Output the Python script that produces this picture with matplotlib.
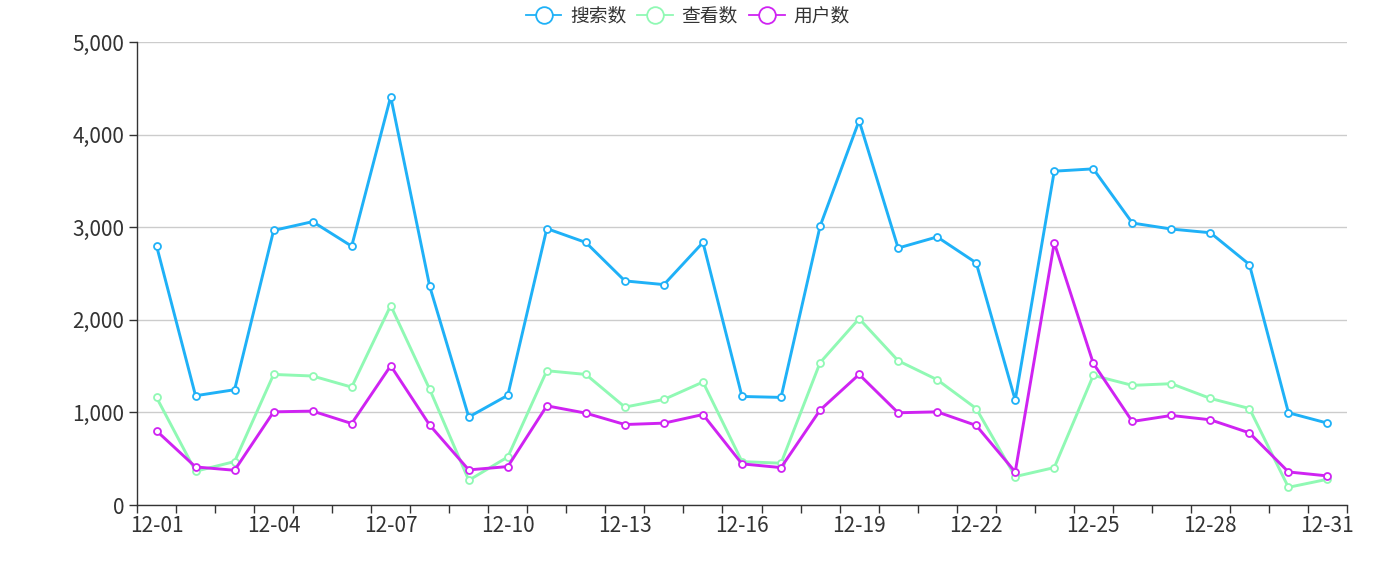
import matplotlib
matplotlib.use("Agg")
import matplotlib.pyplot as plt
from matplotlib.ticker import FuncFormatter, FixedLocator
from matplotlib.lines import Line2D

plt.rcParams['font.family'] = ['Noto Sans CJK SC', 'DejaVu Sans']

dates = [f"12-{d:02d}" for d in range(1, 32)]
search = [2800, 1180, 1245, 2965, 3060, 2795, 4410, 2360, 950, 1185, 2985,
          2835, 2420, 2380, 2835, 1172, 1162, 3010, 4150, 2775, 2895, 2615,
          1133, 3605, 3630, 3045, 2980, 2940, 2597, 996, 884]
views = [1162, 364, 469, 1410, 1393, 1273, 2154, 1248, 267, 519, 1450,
         1410, 1057, 1140, 1328, 469, 451, 1537, 2013, 1558, 1353, 1042,
         307, 404, 1400, 1292, 1310, 1151, 1042, 191, 278]
users = [801, 411, 375, 1006, 1014, 880, 1504, 862, 379, 415, 1071,
         992, 869, 884, 977, 444, 404, 1025, 1410, 996, 1006, 859,
         357, 2832, 1530, 902, 967, 920, 779, 357, 314]
series_names = ["搜索数", "查看数", "用户数"]
colors = ["#1fb1f7", "#90f9b4", "#cf23f2"]
y_ticks = [0, 1000, 2000, 3000, 4000, 5000]

fig = plt.figure(figsize=(13.75, 5.61), dpi=100)
ax = fig.add_axes([137/1375, 1-505/561, (1347-137)/1375, (505-42)/561])

x = list(range(len(dates)))
handles = []
for vals, name, c in zip([search, views, users], series_names, colors):
    ax.plot(x, vals, color=c, lw=2.1, marker='o', markersize=5,
            markerfacecolor='white', markeredgecolor=c, markeredgewidth=1.3,
            zorder=3)
    handles.append(Line2D([0], [0], color=c, lw=1.3, marker='o', markersize=12,
                          markerfacecolor='white', markeredgecolor=c,
                          markeredgewidth=1.3, label=name))

ax.set_xlim(-0.5, len(dates) - 0.5)
ax.set_ylim(0, 5000)
ax.set_yticks(y_ticks)
ax.yaxis.set_major_formatter(FuncFormatter(lambda v, p: f"{int(v):,}"))
ax.grid(axis='y', color='#cccccc', lw=1)
ax.set_axisbelow(True)

ax.xaxis.set_major_locator(FixedLocator([i - 0.5 for i in range(len(dates) + 1)]))
ax.set_xticklabels([])
ax.xaxis.set_minor_locator(FixedLocator([i for i in range(0, len(dates), 3)]))
ax.set_xticklabels([dates[i] for i in range(0, len(dates), 3)], minor=True)
ax.tick_params(axis='x', which='major', length=6, width=1, color='#333333')
ax.tick_params(axis='x', which='minor', length=0, pad=7, labelsize=15,
               labelcolor='#333333')
ax.tick_params(axis='y', length=6, width=1, color='#333333', labelsize=15,
               labelcolor='#333333', pad=3)

for s in ['top', 'right']:
    ax.spines[s].set_visible(False)
for s in ['left', 'bottom']:
    ax.spines[s].set_color('#333333')
    ax.spines[s].set_linewidth(1)

fig.legend(handles=handles, loc='upper center', bbox_to_anchor=(0.5, 1.02),
           ncol=3, frameon=False, fontsize=13.5, handlelength=1.9,
           handletextpad=0.45, columnspacing=0.6, labelcolor='#333333')

fig.savefig("out.png", dpi=100)
